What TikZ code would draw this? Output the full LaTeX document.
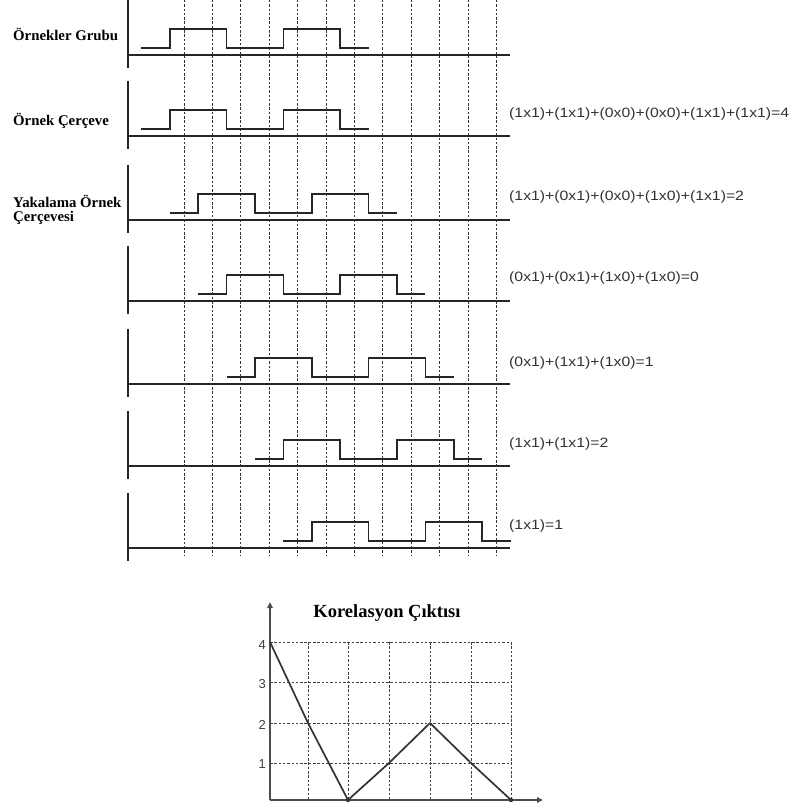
\documentclass[tikz,border=0pt]{standalone}
\usepackage{fontspec}
\setmainfont{Liberation Serif}
\newfontfamily\eqfont{Liberation Sans}
\usetikzlibrary{arrows.meta}
\tikzset{
  gridline/.style={black!80, line width=1pt, dash pattern=on 2.5pt off 1.8pt},
  baseline/.style={black!85, line width=1.7pt},
  wave/.style={black!85, line width=1.6pt},
  axisseg/.style={black!85, line width=1.8pt},
  lbl/.style={anchor=west, inner sep=0pt, font=\fontsize{14.8}{17}\selectfont\bfseries},
  eqlbl/.style={anchor=west, inner sep=0pt, text=black!80, font=\eqfont\fontsize{13.5}{16}\selectfont},
  cgrid/.style={black!75, line width=1pt, dash pattern=on 2.5pt off 1.8pt},
  caxis/.style={black!70, line width=2pt},
  tick/.style={anchor=east, inner sep=0pt, text=black!75, font=\eqfont\fontsize{13}{15}\selectfont},
}
\begin{document}
\begin{tikzpicture}[x=1pt,y=-1pt]
\useasboundingbox (0,0) rectangle (796,810);
% dashed vertical grid of the time diagram
\foreach \k in {0,...,11}{
  \draw[gridline] ({184+28.4*\k},0) -- ({184+28.4*\k},555);
}
% rows: baseline / shift
\foreach \b/\s in {55/0,136/0,220/1,301/2,384/3,466/4,548/5}{
  \draw[axisseg] (128,{max(\b-55,0)}) -- (128,{\b+13});
  \draw[baseline] (128,\b) -- (510,\b);
  \draw[wave] ({184+28.4*(\s-1.5)},{\b-7})
     -- ({184+28.4*(\s-0.5)},{\b-7}) -- ({184+28.4*(\s-0.5)},{\b-26})
     -- ({184+28.4*(\s+1.5)},{\b-26}) -- ({184+28.4*(\s+1.5)},{\b-7})
     -- ({184+28.4*(\s+3.5)},{\b-7}) -- ({184+28.4*(\s+3.5)},{\b-26})
     -- ({184+28.4*(\s+5.5)},{\b-26}) -- ({184+28.4*(\s+5.5)},{\b-7})
     -- ({184+28.4*(\s+6.5)},{\b-7});
}
% left labels
\node[lbl] (l1) at (13,34) {Örnekler Grubu};
\node[lbl] (l2) at (13,121) {Örnek Çerçeve};
\node[lbl] (l3) at (13,201) {Yakalama Örnek};
\node[lbl] (l3b) at (13,218) {Çerçevesi};
% equations
\node[eqlbl] (e1) at (509,114) {\scalebox{1.17}[1]{(1x1)+(1x1)+(0x0)+(0x0)+(1x1)+(1x1)=4}};
\node[eqlbl] (e2) at (509,197) {\scalebox{1.17}[1]{(1x1)+(0x1)+(0x0)+(1x0)+(1x1)=2}};
\node[eqlbl] (e3) at (509,278) {\scalebox{1.17}[1]{(0x1)+(0x1)+(1x0)+(1x0)=0}};
\node[eqlbl] (e4) at (509,363) {\scalebox{1.17}[1]{(0x1)+(1x1)+(1x0)=1}};
\node[eqlbl] (e5) at (509,444) {\scalebox{1.17}[1]{(1x1)+(1x1)=2}};
\node[eqlbl] (e6) at (509,526) {\scalebox{1.17}[1]{(1x1)=1}};
% correlation chart
\foreach \x in {308,348,389,430,471,511}{
  \draw[cgrid] (\x,642) -- (\x,800);
}
\foreach \y in {642,682,723,763}{
  \draw[cgrid] (270,\y) -- (511,\y);
}
\coordinate (o) at (270,800);
\coordinate (ytop) at (270,602);
\coordinate (xend) at (543,800);
\draw[caxis,-{Triangle[length=6pt,width=5.5pt]}] (o) -- (ytop);
\draw[caxis,-{Triangle[length=6pt,width=5.5pt]}] (o) -- (xend);
\node[tick] (t4) at (266,645) {4};
\node[tick] (t3) at (266,684) {3};
\node[tick] (t2) at (266,725) {2};
\node[tick] (t1) at (266,764) {1};
\draw[black!80, line width=1.7pt, line join=round]
  (270,642) -- (308,723) -- (348,800) -- (389,763) -- (430,723) -- (471,763) -- (511,800);
\fill[black!80] (348,800) circle (2.2pt);
\fill[black!80] (511,800) circle (2.2pt);
\node[inner sep=0pt, font=\fontsize{18.5}{21}\selectfont\bfseries] (title) at (387,613) {Korelasyon Çıktısı};
\end{tikzpicture}
\end{document}
